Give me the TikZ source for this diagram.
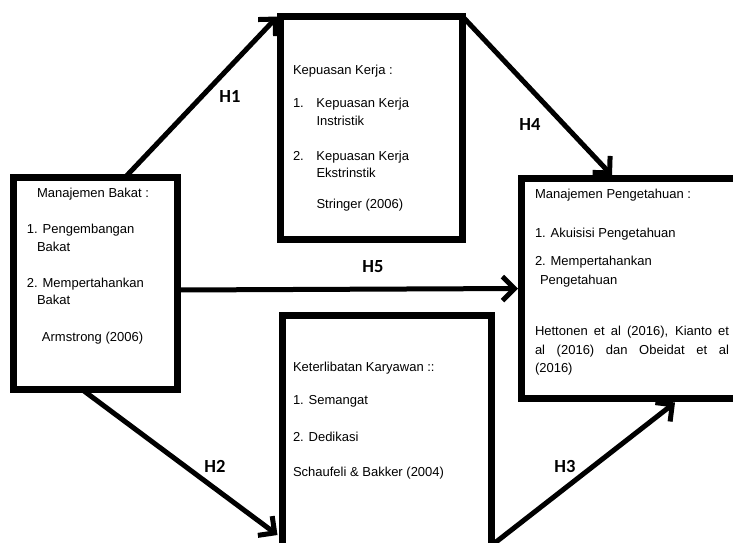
\documentclass[tikz,border=0pt]{standalone}
\usepackage{fontspec}
\setmainfont{Liberation Sans}
\newfontfamily\hfont{Carlito}
\usepackage{tikz}
\usetikzlibrary{positioning,arrows.meta}

\begin{document}
\begin{tikzpicture}[
			x=1pt, y=-1pt,
			varbox/.style={rectangle, draw=black, line width=7pt, inner sep=0pt, outer sep=0pt},
			vartext/.style={font=\fontsize{13}{17.5}\selectfont, align=left, inner sep=0pt, outer sep=0pt},
			hyp/.style={line width=5pt, -{Straight Barb[length=12pt,width=24pt]}},
			hyplabel/.style={font=\hfont\bfseries\fontsize{18.5}{21}\selectfont},
		]

			\path[use as bounding box, fill=white] (0,0) rectangle (733,542);
			\clip (0,0) rectangle (733,542);

			%Boxes
			\node[varbox, minimum width=164pt, minimum height=212pt, anchor=north west]	(bakat)			at (13.5,177.5)	{};
			\node[varbox, minimum width=182pt, minimum height=223pt, anchor=north west]	(kepuasan)		at (280.5,16.5)	{};
			\node[varbox, minimum width=240pt, minimum height=220pt, anchor=north west]	(pengetahuan)	at (521.5,178.5)	{};
			\node[varbox, minimum width=209pt, minimum height=285pt, anchor=north west]	(keterlibatan)	at (282.5,315.5)	{};

			%Texts
			\node[vartext, below right=11pt and 13.5pt of bakat.north west] (bakattxt)
				{\hspace*{10pt}Manajemen Bakat :\\[18.5pt]
				 1. Pengembangan\\
				 \hspace*{10pt}Bakat\\[18.5pt]
				 2. Mempertahankan\\
				 \hspace*{10pt}Bakat\\[19.5pt]
				 \hspace*{15pt}Armstrong (2006)};
			\node[vartext, below right=48.7pt and 12.5pt of kepuasan.north west] (kepuasantxt)
				{Kepuasan Kerja :\\[15.5pt]
				 \makebox[23.5pt][l]{1.}Kepuasan Kerja\\
				 \hspace*{23.5pt}Instristik\\[17.5pt]
				 \makebox[23.5pt][l]{2.}Kepuasan Kerja\\
				 \hspace*{23.5pt}Ekstrinstik\\[13.5pt]
				 \hspace*{23.5pt}Stringer (2006)};
			\node[vartext, below right=10.7pt and 13.5pt of pengetahuan.north west] (pengetahuantxt)
				{Manajemen Pengetahuan :\\[21.5pt]
				 1. Akuisisi Pengetahuan\\[10.5pt]
				 2. Mempertahankan\\[1.5pt]
				 \hspace*{5pt}Pengetahuan\\[33.5pt]
				 \makebox[194pt][s]{Hettonen et al (2016), Kianto et}\\[1.5pt]
				 \makebox[194pt][s]{al (2016) dan Obeidat et al}\\[0.5pt]
				 (2016)};
			\node[vartext, below right=46.7pt and 10.5pt of keterlibatan.north west] (keterlibatantxt)
				{Keterlibatan Karyawan ::\\[15.5pt]
				 1. Semangat\\[19.5pt]
				 2. Dedikasi\\[17.5pt]
				 Schaufeli \& Bakker (2004)};

			%Lines
			\draw[hyp]	([xshift=29.5pt]bakat.north) -- ([xshift=-3pt]kepuasan.north west);
			\draw[hyp]	(kepuasan.north east) -- ([xshift=90.5pt,yshift=3pt]pengetahuan.north west);
			\draw[hyp]	([yshift=-6.5pt]bakat.east) -- ([xshift=-3.5pt]pengetahuan.west);
			\draw[hyp]	([xshift=-13.5pt]bakat.south) -- ([xshift=-5pt,yshift=-219.5pt]keterlibatan.north west);
			\draw[hyp]	([yshift=-230pt]keterlibatan.north east) -- ([xshift=153.5pt,yshift=-4pt]pengetahuan.south west);

			%Labels
			\node[hyplabel]	(h1)	at (230,96)		{H1};
			\node[hyplabel]	(h4)	at (530,124)	{H4};
			\node[hyplabel]	(h5)	at (373,267)	{H5};
			\node[hyplabel]	(h2)	at (215,466)	{H2};
			\node[hyplabel]	(h3)	at (565,466)	{H3};

		\end{tikzpicture}
\end{document}
